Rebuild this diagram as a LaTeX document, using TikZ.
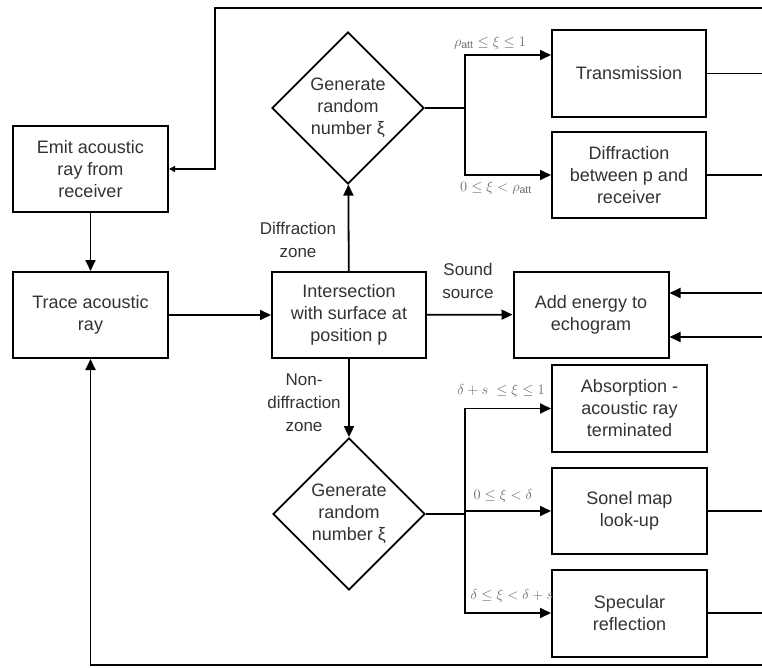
\documentclass[tikz,border=0pt]{standalone}
\usepackage{fontspec}
\setmainfont{Liberation Sans}
\usetikzlibrary{shapes.geometric,arrows.meta,calc}
\definecolor{txt}{rgb}{0.2,0.2,0.2}
\definecolor{lbl}{rgb}{0.42,0.42,0.42}
\begin{document}
\begin{tikzpicture}[x=1pt,y=-1pt,
  box/.style={draw, line width=2pt, minimum width=155pt, minimum height=86pt,
    inner sep=2pt, align=center, text=txt, font=\fontsize{18}{22}\selectfont},
  dia/.style={draw, diamond, line width=1.8pt, minimum width=152pt,
    minimum height=152pt, inner sep=0pt},
  diatext/.style={align=center, text=txt, font=\fontsize{18}{22}\selectfont},
  zonetext/.style={align=center, text=txt, font=\fontsize{17}{23}\selectfont},
  cond/.style={text=lbl, font=\fontsize{15}{17}\selectfont, inner sep=0pt},
  conn/.style={line width=1.8pt},
  arr/.style={line width=1.8pt, -{Triangle[length=11pt,width=10pt]}},
  arrsmall/.style={line width=1.8pt, -{Triangle[length=6pt,width=6pt]}}
]
\fill[white] (0,0) rectangle (762,668);
\useasboundingbox (0,0) rectangle (762,668);

% boxes
\node[box] (emit)   at (90.5,169)  {Emit acoustic\\ray from\\receiver};
\node[box] (trace)  at (90.5,315)  {Trace acoustic\\ray};
\node[box, minimum width=154pt] (inter) at (349,315) {Intersection\\with surface at\\position p};
\node[box] (add)    at (591,314.5) {Add energy to\\echogram};
\node[box, minimum width=154pt, minimum height=87pt] (trans) at (629,73.5) {Transmission};
\node[box, minimum width=154pt] (diffr) at (629,175) {Diffraction\\between p and\\receiver};
\node[box, minimum height=87pt] (absorb) at (629.5,408.5) {Absorption -\\acoustic ray\\terminated};
\node[box] (sonel)  at (629.5,511)  {Sonel map\\look-up};
\node[box, minimum height=87pt] (spec) at (629.5,613) {Specular\\reflection};

% diamonds
\node[dia] (d1) at (348,108) {};
\node[diatext] (d1t) at (d1) {Generate\\random\\number ξ};
\node[dia] (d2) at (349,514) {};
\node[diatext] (d2t) at (d2) {Generate\\random\\number ξ};

% junctions and free ends
\coordinate (j1) at (465,108);
\coordinate (j2) at (465,514);
\coordinate (topR) at (762,8);
\coordinate (topL) at (215,8);
\coordinate (botR) at (762,665);
\coordinate (edge) at (762,0);

% main flow
\draw[arr] (emit) -- (trace);
\draw[arr] (trace) -- (inter);
\draw[arr] (inter) -- (d1);
\draw[arr] (inter) -- (add);
\draw[arr] (inter) -- (d2);

% top decision
\draw[conn] (d1.east) -- (j1);
\draw[arr] (j1) |- ([yshift=18.5pt]trans.west);
\draw[arr] (j1) |- (diffr.west);

% bottom decision
\draw[conn] (d2.east) -- (j2);
\draw[arr] (j2) |- (absorb.west);
\draw[arr] (j2 |- sonel.west) -- (sonel.west);
\draw[arr] (j2) |- (spec.west);

% outputs to the right edge
\draw[conn] (trans.east) -- (trans.east -| edge);
\draw[conn] (diffr.east) -- (diffr.east -| edge);
\draw[conn] (sonel.east) -- (sonel.east -| edge);
\draw[conn] (spec.east) -- (spec.east -| edge);
\draw[arr] ([yshift=21.5pt]add.east -| edge) -- ([yshift=21.5pt]add.east);
\draw[arr] ([yshift=-22.5pt]add.east -| edge) -- ([yshift=-22.5pt]add.east);

% loops
\draw[arrsmall] (topR) -- (topL) |- (emit.east);
\draw[arr] (botR) -| (trace.south);

% labels
\node[zonetext] (lz1) at (298,240) {Diffraction\\zone};
\node[zonetext] (lz2) at (468,281) {Sound\\source};
\node[zonetext] (lz3) at (304,403) {Non-\\diffraction\\zone};

\node[cond] (c1) at (490,43)  {$\rho_{\mathrm{att}} \leq \xi \leq 1$};
\node[cond] (c2) at (496,188) {$0 \leq \xi < \rho_{\mathrm{att}}$};
\node[cond] (c3) at (501,391) {$\delta + s \;\leq \xi \leq 1$};
\node[cond] (c4) at (503,496) {$0 \leq \xi < \delta$};
\node[cond] (c5) at (512,596) {$\delta \leq \xi < \delta + s$};
\end{tikzpicture}
\end{document}
